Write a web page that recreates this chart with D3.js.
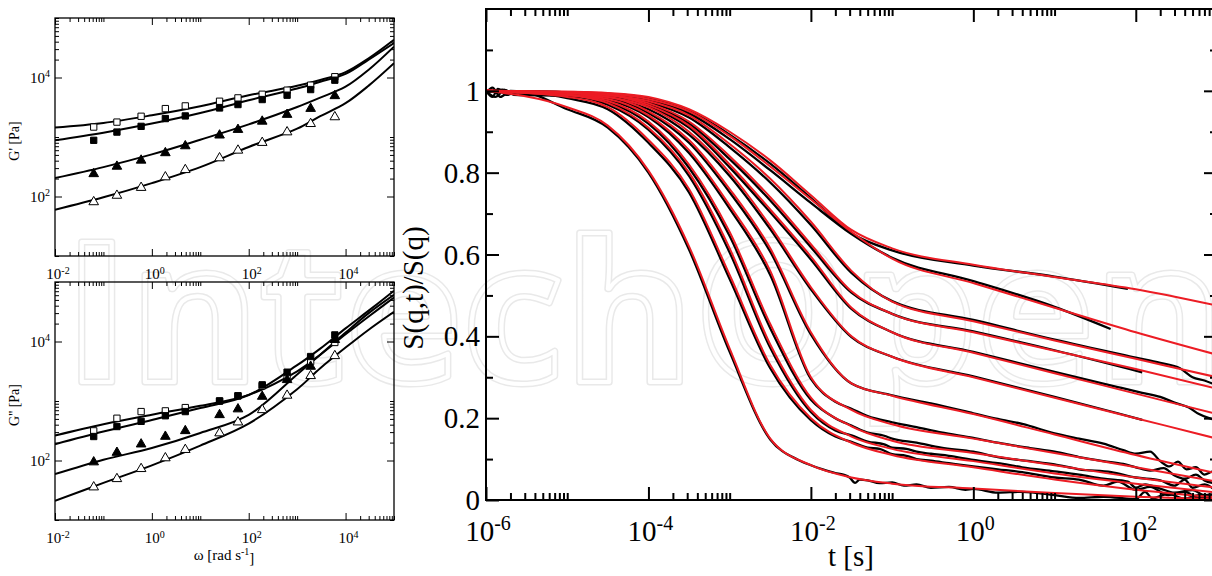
<!DOCTYPE html>
<html>
<head>
<meta charset="utf-8">
<script src="https://cdn.jsdelivr.net/npm/d3@7"></script>
<style>
  body { margin: 0; background: #fff; }
  svg { display: block; font-family: "Liberation Serif", "Times New Roman", serif; }
</style>
</head>
<body>
<svg id="chart" width="1212" height="576"></svg>
<script>
// ---- left panels: frequency sweep data ----
const omega = [0.063, 0.19, 0.6, 1.9, 4.9, 25, 60, 190, 620, 1900, 6000];
const gpOpenSq = [1470, 1780, 2230, 3000, 3330, 3990, 4540, 5230, 6120, 7430, 10300];
const gpFillSq = [880, 1210, 1510, 2040, 2260, 3080, 3510, 4260, 5040, 6270, 9010];
const gpFillTri = [240, 320, 405, 540, 706, 1070, 1330, 1830, 2380, 3000, 4910];
const gpOpenTri = [81, 104, 141, 212, 281, 443, 596, 804, 1210, 1670, 2170];

const gppOpenSq = [315, 513, 664, 682, 775, 1000, 1220, 1800, 2590, 4610, 9630];
const gppFillSq = [253, 372, 455, 565, 664, 1000, 1220, 1870, 3050, 5590, 12900];
const gppFillTri = [94, 136, 188, 253, 315, 585, 731, 1190, 2270, 3800, 10700];
const gppOpenTri = [35.7, 49.2, 72.6, 110, 152, 289, 441, 710, 1240, 2650, 5740];

// model curves (solid lines)
const fitOmega = [0.01, 0.1, 1, 10, 100, 1000, 3000, 1e4, 3e4, 1e5];
const gpFitOpenSq = [1440, 1720, 2320, 3290, 5030, 7240, 9100, 12300, 21000, 43000];
const gpFitFillSq = [880, 1180, 1680, 2530, 4150, 6530, 8500, 11500, 20000, 38000];
const gpFitFillTri = [204, 312, 510, 900, 1630, 3200, 4600, 7000, 13500, 33000];
const gpFitOpenTri = [60, 97, 168, 312, 680, 1380, 2240, 3700, 7300, 17400];

const gppFitOpenSq = [263, 407, 589, 830, 1270, 3160, 6000, 13200, 26300, 55000];
const gppFitFillSq = [188, 307, 480, 760, 1260, 4000, 7600, 16600, 33000, 71000];
const gppFitFillTri = [59, 103, 162, 290, 585, 2800, 6000, 14100, 30000, 61000];
const gppFitOpenTri = [21, 42, 83, 178, 417, 1580, 3550, 7900, 15800, 31600];

// ---- right panel: S(q,t)/S(q) ----
const tFit = [1e-6, 1e-5, 3.16e-5, 1e-4, 3.16e-4, 1e-3, 3.16e-3, 1e-2, 3.16e-2, 0.1, 1, 10, 100, 1000];
const fitA = [1.0, 0.998, 0.995, 0.985, 0.955, 0.90, 0.83, 0.745, 0.66, 0.615, 0.575, 0.545, 0.515, 0.475];
const fitB = [1.0, 0.998, 0.993, 0.98, 0.95, 0.89, 0.815, 0.735, 0.655, 0.59, 0.53, 0.47, 0.41, 0.355];
const fitC = [1.0, 0.995, 0.99, 0.975, 0.94, 0.87, 0.785, 0.68, 0.56, 0.485, 0.437, 0.39, 0.345, 0.30];
const fitD = [1.0, 0.995, 0.99, 0.97, 0.925, 0.84, 0.74, 0.625, 0.51, 0.455, 0.41, 0.365, 0.32, 0.272];
const fitE = [1.0, 0.995, 0.99, 0.965, 0.915, 0.82, 0.71, 0.595, 0.47, 0.41, 0.36, 0.31, 0.26, 0.21];
const fitF = [1.0, 0.995, 0.985, 0.96, 0.90, 0.80, 0.67, 0.52, 0.40, 0.35, 0.30, 0.25, 0.20, 0.15];
const fitG = [1.0, 0.99, 0.985, 0.95, 0.88, 0.76, 0.615, 0.41, 0.285, 0.255, 0.21, 0.16, 0.11, 0.065];
const fitH = [1.0, 0.99, 0.98, 0.94, 0.855, 0.72, 0.56, 0.30, 0.22, 0.185, 0.15, 0.115, 0.08, 0.045];
const fitI = [1.0, 0.99, 0.975, 0.925, 0.82, 0.655, 0.43, 0.25, 0.18, 0.145, 0.115, 0.085, 0.055, 0.03];
const fitJ = [1.0, 0.99, 0.97, 0.91, 0.80, 0.615, 0.38, 0.22, 0.155, 0.125, 0.095, 0.065, 0.04, 0.018];
const fitK = [1.0, 0.985, 0.96, 0.88, 0.76, 0.55, 0.33, 0.20, 0.14, 0.11, 0.08, 0.05, 0.025, 0.006];
const fitL = [1.0, 0.96, 0.915, 0.805, 0.62, 0.37, 0.15, 0.085, 0.055, 0.04, 0.028, 0.017, 0.008, 0.002];

// measured correlation functions [t, S]
const dataA = [[1e-6,1.0],[1e-5,0.997],[3.16e-5,0.993],[1e-4,0.982],[3.16e-4,0.951],[1e-3,0.893],[3.16e-3,0.822],[1e-2,0.738],[3.16e-2,0.652],[0.1,0.61],[1,0.573],[10,0.546],[80,0.516]];
const dataB = [[1e-6,1.0],[1e-5,0.997],[3.16e-5,0.991],[1e-4,0.977],[3.16e-4,0.945],[1e-3,0.882],[3.16e-3,0.806],[1e-2,0.726],[3.16e-2,0.65],[0.1,0.592],[1,0.535],[10,0.472],[49,0.418]];
const dataC = [[1e-6,0.995],[1.6e-6,1.003],[2.5e-6,0.99],[1e-5,0.994],[3.16e-5,0.988],[1e-4,0.972],[3.16e-4,0.935],[1e-3,0.862],[3.16e-3,0.776],[1e-2,0.672],[3.16e-2,0.555],[0.1,0.486],[1,0.44],[10,0.392],[100,0.348],[200,0.335],[350,0.322],[500,0.30],[700,0.292],[1000,0.28]];
const dataD = [[1e-6,1.0],[1e-5,0.994],[3.16e-5,0.988],[1e-4,0.967],[3.16e-4,0.92],[1e-3,0.833],[3.16e-3,0.732],[1e-2,0.618],[3.16e-2,0.507],[0.1,0.455],[1,0.412],[10,0.366],[120,0.312]];
const dataE = [[1e-6,1.0],[1e-5,0.994],[3.16e-5,0.988],[1e-4,0.962],[3.16e-4,0.91],[1e-3,0.813],[3.16e-3,0.703],[1e-2,0.588],[3.16e-2,0.467],[0.1,0.41],[1,0.362],[10,0.313],[60,0.276],[120,0.262],[200,0.252],[300,0.238],[450,0.226],[600,0.21],[800,0.20],[1000,0.195]];
const dataF = [[1e-6,1.0],[1e-5,0.994],[3.16e-5,0.983],[1e-4,0.955],[3.16e-4,0.893],[1e-3,0.792],[3.16e-3,0.662],[1e-2,0.515],[3.16e-2,0.398],[0.1,0.35],[1,0.302],[10,0.252],[60,0.212],[120,0.196]];
const dataG = [[1e-6,1.0],[1e-5,0.99],[3.16e-5,0.983],[1e-4,0.946],[3.16e-4,0.873],[1e-3,0.752],[3.16e-3,0.607],[1e-2,0.405],[3.16e-2,0.285],[0.1,0.256],[0.3,0.236],[1,0.212],[2,0.198],[4,0.186],[10,0.163],[20,0.15],[40,0.138],[70,0.122],[100,0.113],[150,0.118],[200,0.095],[260,0.082],[330,0.094],[420,0.075],[550,0.08],[700,0.062],[900,0.07],[1000,0.065]];
const dataH = [[1e-6,1.0],[1e-5,0.99],[3.16e-5,0.978],[1e-4,0.936],[3.16e-4,0.848],[1e-3,0.712],[3.16e-3,0.55],[1e-2,0.296],[2e-2,0.24],[3.16e-2,0.223],[0.05,0.205],[0.1,0.19],[0.2,0.178],[0.4,0.165],[1,0.152],[2,0.14],[5,0.127],[10,0.118],[20,0.105],[40,0.095],[70,0.088],[100,0.08],[150,0.072],[220,0.078],[300,0.06],[400,0.052],[550,0.062],[700,0.048],[1000,0.04]];
const dataI = [[1e-6,1.0],[1e-5,0.988],[3.16e-5,0.972],[1e-4,0.92],[3.16e-4,0.812],[1e-3,0.645],[3.16e-3,0.42],[1e-2,0.245],[2e-2,0.2],[3.16e-2,0.182],[0.05,0.165],[0.08,0.157],[0.1,0.15],[0.2,0.14],[0.4,0.128],[1,0.118],[2,0.105],[5,0.095],[10,0.087],[20,0.075],[50,0.068],[100,0.055],[200,0.048],[300,0.035],[400,0.05],[500,0.03],[700,0.038],[1000,0.02]];
const dataJ = [[1e-6,1.0],[1.3e-6,0.985],[1.7e-6,1.002],[2.2e-6,0.99],[1e-5,0.988],[3.16e-5,0.966],[1e-4,0.905],[3.16e-4,0.792],[1e-3,0.605],[3.16e-3,0.372],[1e-2,0.215],[2e-2,0.17],[3.16e-2,0.158],[0.05,0.143],[0.08,0.136],[0.1,0.128],[0.15,0.125],[0.2,0.118],[0.3,0.113],[0.5,0.108],[1,0.098],[2,0.09],[4,0.08],[10,0.07],[20,0.062],[40,0.052],[80,0.045],[100,0.03],[130,0.038],[200,0.028],[300,0.018],[500,0.024],[700,0.012],[1000,0.015]];
const dataK = [[1e-6,0.995],[1.2e-6,1.008],[1.5e-6,0.985],[2e-6,1.0],[1e-5,0.982],[3.16e-5,0.955],[1e-4,0.873],[3.16e-4,0.752],[1e-3,0.54],[3.16e-3,0.322],[1e-2,0.195],[2e-2,0.155],[3.16e-2,0.142],[0.05,0.128],[0.07,0.125],[0.1,0.112],[0.15,0.108],[0.2,0.1],[0.3,0.096],[0.5,0.09],[1,0.082],[2,0.075],[4,0.068],[10,0.055],[20,0.05],[40,0.035],[60,0.045],[100,0.025],[150,0.032],[250,0.012],[400,0.02],[600,0.005],[1000,0.01]];
const dataL = [[1e-6,1.0],[1.2e-6,0.985],[1.4e-6,1.005],[1.8e-6,0.99],[2.5e-6,0.998],[1e-5,0.955],[3.16e-5,0.91],[1e-4,0.8],[3.16e-4,0.612],[1e-3,0.362],[3.16e-3,0.148],[7e-3,0.098],[1e-2,0.085],[1.4e-2,0.075],[2e-2,0.066],[2.5e-2,0.062],[3e-2,0.055],[3.5e-2,0.042],[4e-2,0.05],[5e-2,0.048],[7e-2,0.041],[0.1,0.043],[0.14,0.035],[0.2,0.038],[0.3,0.03],[0.5,0.032],[0.8,0.025],[1,0.027],[2,0.018],[4,0.02],[10,0.012],[20,0.005],[40,0.008],[100,0.002],[130,0.02],[160,0.004],[250,0.015],[400,0.003],[600,0.012],[1000,0.004]];

const fits = [fitA, fitB, fitC, fitD, fitE, fitF, fitG, fitH, fitI, fitJ, fitK, fitL];
const measured = [dataA, dataB, dataC, dataD, dataE, dataF, dataG, dataH, dataI, dataJ, dataK, dataL];

const RED = '#ec1c24';
const svg = d3.select('#chart');

// faint publisher watermark behind everything (double outline)
const mark = svg.append('g').attr('font-family', '"Open Sans", Lato, sans-serif')
  .attr('font-weight', 700).attr('font-size', 196).attr('fill', 'none');
[['#e9e9e9', 7], ['#fff', 4]].forEach(([c, w]) => {
  mark.append('text').attr('x', 64).attr('y', 382)
    .attr('textLength', 1160).attr('lengthAdjust', 'spacingAndGlyphs')
    .attr('stroke', c).attr('stroke-width', w).attr('stroke-linejoin', 'round')
    .text('IntechOpen');
});

// minor ticks sit at 2..10 x 10^e after each (two-decade) major tick
const minorLog = exps => exps.flatMap(e => [2, 3, 4, 5, 6, 7, 8, 9, 10].map(k => k * Math.pow(10, e)));

const powLabel = (sel, exp, small) => {
  sel.text('10');
  sel.append('tspan').attr('dy', '-0.55em').attr('font-size', small).text(exp);
};

// draw ticks on all four sides, pointing inward
function frameTicks(g, x, y, box, opt) {
  const sides = [
    [d3.axisBottom(x), `translate(0,${box.b})`, opt.xMajor, opt.xMinor],
    [d3.axisTop(x), `translate(0,${box.t})`, opt.xMajor, opt.xMinor],
    [d3.axisLeft(y), `translate(${box.l},0)`, opt.yMajor, opt.yMinor],
    [d3.axisRight(y), `translate(${box.r},0)`, opt.yMajor, opt.yMinor]
  ];
  sides.forEach(([ax, tr, major, minor]) => {
    [[major, opt.majLen], [minor, opt.minLen]].forEach(([vals, len]) => {
      g.append('g').attr('transform', tr)
        .call(ax.tickValues(vals).tickSize(-len).tickFormat(''))
        .call(s => s.select('.domain').remove())
        .selectAll('line').attr('stroke', '#000').attr('stroke-width', opt.tickW);
    });
  });
  g.append('rect')
    .attr('x', box.l).attr('y', box.t)
    .attr('width', box.r - box.l).attr('height', box.b - box.t)
    .attr('fill', 'none').attr('stroke', '#000').attr('stroke-width', opt.frameW);
}

// ---------- left panels ----------
const xw = d3.scaleLog().domain([1e-2, 1e5]).range([55, 394]);

const marker = {
  openSq: { sym: d3.symbolSquare, size: 40, fill: '#fff' },
  fillSq: { sym: d3.symbolSquare, size: 40, fill: '#000' },
  fillTri: { sym: d3.symbolTriangle, size: 40, fill: '#000' },
  openTri: { sym: d3.symbolTriangle, size: 40, fill: '#fff' }
};

function modulusPanel(top, bottom, fitsSet, pointsSet, yTitle, showXTitle) {
  const y = d3.scaleLog().domain([10, 1e5]).range([bottom, top]);
  const g = svg.append('g');
  const box = { l: 55, r: 394, t: top, b: bottom };
  const clipId = 'clip' + top;
  svg.append('clipPath').attr('id', clipId).append('rect')
    .attr('x', box.l).attr('y', box.t).attr('width', box.r - box.l).attr('height', box.b - box.t);

  const line = d3.line().x(d => xw(d[0])).y(d => y(d[1])).curve(d3.curveCatmullRom);
  g.append('g').attr('clip-path', `url(#${clipId})`)
    .selectAll('path').data(fitsSet).join('path')
    .attr('d', vals => line(fitOmega.map((w, i) => [w, vals[i]])))
    .attr('fill', 'none').attr('stroke', '#000').attr('stroke-width', 2);

  pointsSet.forEach(([vals, kind]) => {
    const m = marker[kind];
    g.append('g').selectAll('path').data(omega.map((w, i) => [w, vals[i]])).join('path')
      .attr('transform', d => `translate(${xw(d[0])},${y(d[1])})`)
      .attr('d', d3.symbol().type(m.sym).size(m.size))
      .attr('fill', m.fill).attr('stroke', '#000').attr('stroke-width', 1);
  });

  frameTicks(g, xw, y, box, {
    xMajor: [1e-2, 1, 1e2, 1e4], xMinor: minorLog([-2, 0, 2, 4]),
    yMajor: [1e2, 1e4], yMinor: minorLog([0, 2, 4]).filter(v => v >= 10 && v <= 1e5),
    majLen: 7, minLen: 4, tickW: 1, frameW: 1.3
  });

  g.selectAll('.xl').data([-2, 0, 2, 4]).join('text')
    .attr('x', e => xw(Math.pow(10, e)) + 3).attr('y', bottom + 23)
    .attr('text-anchor', 'middle').attr('font-size', 15)
    .each(function(e) { powLabel(d3.select(this), e, 10); });
  g.selectAll('.yl').data([2, 4]).join('text')
    .attr('x', 50).attr('y', e => y(Math.pow(10, e)) + 5)
    .attr('text-anchor', 'end').attr('font-size', 15)
    .each(function(e) { powLabel(d3.select(this), e, 10); });

  g.append('text').attr('transform', `translate(19,${(top + bottom) / 2 + 4}) rotate(-90)`)
    .attr('text-anchor', 'middle').attr('font-size', 14).text(yTitle);

  if (showXTitle) {
    const t = g.append('text').attr('x', 224).attr('y', bottom + 40)
      .attr('text-anchor', 'middle').attr('font-size', 15);
    t.append('tspan').text('ω [rad s');
    t.append('tspan').attr('dy', '-0.5em').attr('font-size', 10).text('-1');
    t.append('tspan').attr('dy', '0.5em').text(']');
  }
}

modulusPanel(18, 256,
  [gpFitOpenSq, gpFitFillSq, gpFitFillTri, gpFitOpenTri],
  [[gpOpenSq, 'openSq'], [gpFillSq, 'fillSq'], [gpFillTri, 'fillTri'], [gpOpenTri, 'openTri']],
  "G' [Pa]", false);
modulusPanel(282, 520,
  [gppFitOpenSq, gppFitFillSq, gppFitFillTri, gppFitOpenTri],
  [[gppOpenSq, 'openSq'], [gppFillSq, 'fillSq'], [gppFillTri, 'fillTri'], [gppOpenTri, 'openTri']],
  "G'' [Pa]", true);

// ---------- right panel ----------
const rb = { l: 486, r: 1217, t: 9, b: 500 };
const xt = d3.scaleLog().domain([1e-6, 1e3]).range([rb.l, rb.r]);
const ys = d3.scaleLinear().domain([0, 1.2]).range([rb.b, rb.t]);
const rg = svg.append('g');
svg.append('clipPath').attr('id', 'clipR').append('rect')
  .attr('x', rb.l).attr('y', rb.t).attr('width', rb.r - rb.l).attr('height', rb.b - rb.t);

const sLine = d3.line().x(d => xt(d[0])).y(d => ys(d[1])).curve(d3.curveMonotoneX);
const curves = rg.append('g').attr('clip-path', 'url(#clipR)');
curves.selectAll('path.data').data(measured).join('path').attr('class', 'data')
  .attr('d', sLine).attr('fill', 'none').attr('stroke', '#000')
  .attr('stroke-width', 2.3).attr('stroke-linejoin', 'round');
curves.selectAll('path.fit').data(fits).join('path').attr('class', 'fit')
  .attr('d', vals => sLine(tFit.map((t, i) => [t, vals[i]])))
  .attr('fill', 'none').attr('stroke', RED).attr('stroke-width', 2);

frameTicks(rg, xt, ys, rb, {
  xMajor: [1e-6, 1e-4, 1e-2, 1, 1e2], xMinor: minorLog([-6, -4, -2, 0, 2]),
  yMajor: [0, 0.2, 0.4, 0.6, 0.8, 1.0], yMinor: [0.1, 0.3, 0.5, 0.7, 0.9, 1.1],
  majLen: 13, minLen: 7, tickW: 2, frameW: 2
});

rg.selectAll('.xl').data([-6, -4, -2, 0, 2]).join('text')
  .attr('x', e => xt(Math.pow(10, e)) + 2).attr('y', 541)
  .attr('text-anchor', 'middle').attr('font-size', 29)
  .each(function(e) { powLabel(d3.select(this), e, 20); });
const yTickText = ['0', '0.2', '0.4', '0.6', '0.8', '1'];
rg.selectAll('.yl').data([0, 0.2, 0.4, 0.6, 0.8, 1.0]).join('text')
  .attr('x', 480).attr('y', v => ys(v) + 10)
  .attr('text-anchor', 'end').attr('font-size', 29)
  .text((v, i) => yTickText[i]);

rg.append('text').attr('transform', 'translate(423,288) rotate(-90)')
  .attr('text-anchor', 'middle').attr('font-size', 29).text('S(q,t)/S(q)');
rg.append('text').attr('x', 851).attr('y', 566)
  .attr('text-anchor', 'middle').attr('font-size', 29).text('t [s]');
</script>
</body>
</html>
